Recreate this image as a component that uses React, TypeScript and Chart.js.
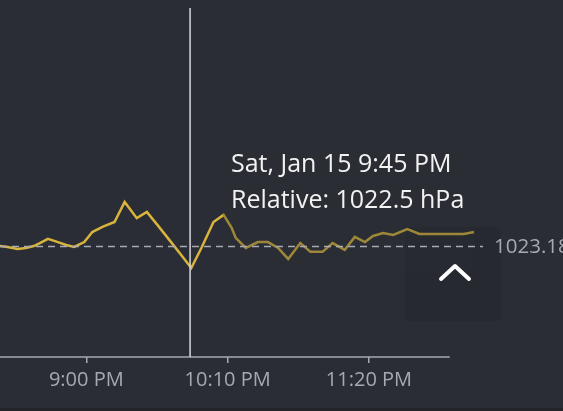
import React, { useEffect, useRef } from "react";
import { Chart, registerables } from "chart.js";

Chart.register(...registerables);

// minutes relative to 9:00 PM
const times = [
  -43, -39, -34, -30, -26, -23, -19, -14, -10, -6, -1, 3, 8, 14, 19, 25, 30, 36, 42, 47,
  52, 57, 63, 68, 72, 74, 79, 85, 90, 95, 100, 106, 111, 117, 122, 128, 133, 138, 142, 147,
  152, 159, 165, 171, 177, 182, 187, 192,
];
// relative pressure, hPa
const pressure = [
  1023.18, 1023.15, 1023.09, 1023.12, 1023.18, 1023.27, 1023.4, 1023.3, 1023.21, 1023.15,
  1023.3, 1023.61, 1023.77, 1023.92, 1024.54, 1024.04, 1024.23, 1023.77, 1023.3, 1022.9,
  1022.5, 1023.12, 1023.92, 1024.14, 1023.74, 1023.43, 1023.12, 1023.3, 1023.3, 1023.12,
  1022.78, 1023.27, 1023.0, 1023.0, 1023.27, 1023.06, 1023.46, 1023.3, 1023.49, 1023.58,
  1023.52, 1023.7, 1023.55, 1023.55, 1023.55, 1023.55, 1023.55, 1023.61,
];
const tickMinutes = [0, 70, 140];
const referenceValue = 1023.18;
const referenceLabel = "1023.18";
const crosshairMinute = 51.4;
const axisEndMinute = 180;
const tooltipTitle = "Sat, Jan 15 9:45 PM";
const tooltipLabel = "Relative: 1022.5 hPa";

const BG = "#2a2d35";
const TEXT = "#a6a9b0";
const LINE = "#d8b43c";
const FONT = "'Open Sans', 'Noto Sans', sans-serif";

function fmtTime(m: number): string {
  const total = 21 * 60 + m;
  let h = Math.floor(total / 60) % 24;
  const mm = ((total % 60) + 60) % 60;
  const ampm = h >= 12 ? "PM" : "AM";
  h = h % 12 || 12;
  return `${h}:${String(mm).padStart(2, "0")} ${ampm}`;
}

const decor = {
  id: "decor",
  beforeDraw(chart: any) {
    const { ctx, width, height } = chart;
    ctx.save();
    ctx.fillStyle = BG;
    ctx.fillRect(0, 0, width, height);
    ctx.fillStyle = "#22242a";
    ctx.fillRect(0, 408, width, height - 408);
    // chevron box
    ctx.fillStyle = "#262930";
    ctx.beginPath();
    ctx.roundRect(405, 227, 96, 94, 4);
    ctx.fill();
    ctx.restore();
  },
  afterDraw(chart: any) {
    const { ctx, chartArea, scales } = chart;
    const x = scales.x;
    const y = scales.y;
    ctx.save();
    // tooltip overlay
    ctx.fillStyle = "rgba(42,45,53,0.33)";
    ctx.beginPath();
    ctx.roundRect(223, 138, 251, 132, 4);
    ctx.fill();
    // reference dashed line
    const ry = Math.round(y.getPixelForValue(referenceValue)) + 0.5;
    ctx.strokeStyle = "#a8abb2";
    ctx.lineWidth = 1.6;
    ctx.setLineDash([7, 5]);
    ctx.beginPath();
    ctx.moveTo(chartArea.left, ry);
    ctx.lineTo(x.getPixelForValue(196.5), ry);
    ctx.stroke();
    ctx.setLineDash([]);
    ctx.fillStyle = TEXT;
    ctx.font = `20.5px ${FONT}`;
    ctx.textBaseline = "alphabetic";
    ctx.textAlign = "left";
    ctx.fillText(referenceLabel, 494, 253);
    // chevron
    ctx.strokeStyle = "#ffffff";
    ctx.lineWidth = 4;
    ctx.lineCap = "round";
    ctx.lineJoin = "round";
    ctx.beginPath();
    ctx.moveTo(441, 279);
    ctx.lineTo(455, 266);
    ctx.lineTo(469, 279);
    ctx.stroke();
    // axis line
    ctx.strokeStyle = TEXT;
    ctx.lineWidth = 1.5;
    ctx.lineCap = "butt";
    ctx.beginPath();
    ctx.moveTo(chartArea.left, chartArea.bottom);
    ctx.lineTo(x.getPixelForValue(axisEndMinute), chartArea.bottom);
    ctx.stroke();
    // crosshair
    const cx = x.getPixelForValue(crosshairMinute);
    ctx.strokeStyle = "#d8d9dc";
    ctx.lineWidth = 1.5;
    ctx.beginPath();
    ctx.moveTo(cx, 8);
    ctx.lineTo(cx, chartArea.bottom);
    ctx.stroke();
    // tooltip text
    ctx.fillStyle = "#f2f2f2";
    ctx.font = `25px ${FONT}`;
    ctx.fillText(tooltipTitle, 231, 172);
    ctx.fillText(tooltipLabel, 231, 208);
    ctx.restore();
  },
};

export default function App() {
  const ref = useRef<HTMLCanvasElement | null>(null);
  useEffect(() => {
    document.body.style.margin = "0";
    document.body.style.background = BG;
    const chart = new Chart(ref.current as HTMLCanvasElement, {
      type: "line",
      data: {
        datasets: [
          {
            data: times.map((t, i) => ({ x: t, y: pressure[i] })),
            borderColor: LINE,
            borderWidth: 2.5,
            pointRadius: 0,
            tension: 0,
            fill: false,
          },
        ],
      },
      options: {
        responsive: false,
        animation: false,
        events: [],
        layout: { padding: { left: 0, right: 63, top: 0, bottom: 0 } },
        plugins: { legend: { display: false }, tooltip: { enabled: false } },
        scales: {
          x: {
            type: "linear",
            min: -42.74,
            max: 204.9,
            afterFit: (s: any) => {
              s.height = 54;
            },
            afterBuildTicks: (s: any) => {
              s.ticks = tickMinutes.map((v) => ({ value: v }));
            },
            border: { display: false },
            grid: {
              display: true,
              drawOnChartArea: false,
              drawTicks: true,
              tickLength: 6,
              color: TEXT,
              lineWidth: 1.5,
            },
            ticks: {
              autoSkip: false,
              maxRotation: 0,
              padding: 5,
              color: TEXT,
              font: { family: FONT, size: 20 },
              callback: (v: any) => fmtTime(Number(v)),
            },
          },
          y: {
            display: false,
            min: 1019.754,
            max: 1030.773,
          },
        },
      },
      plugins: [decor],
    });
    return () => chart.destroy();
  }, []);
  return (
    <div style={{ position: "fixed", left: 0, top: 0, width: 563, height: 411 }}>
      <canvas ref={ref} width={563} height={411} style={{ display: "block" }} />
    </div>
  );
}
